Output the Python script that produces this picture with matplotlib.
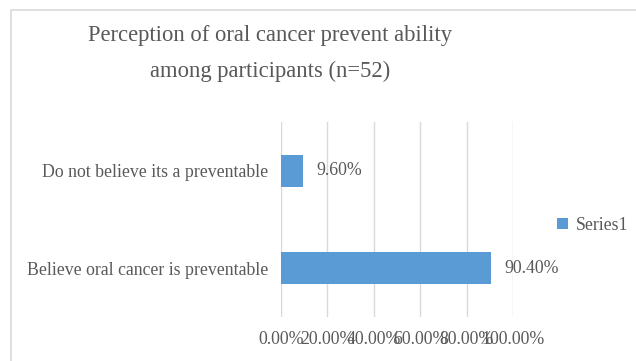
import matplotlib.pyplot as plt
from matplotlib.patches import Rectangle
from matplotlib.ticker import FuncFormatter

categories = ["Believe oral cancer is preventable", "Do not believe its a preventable"]
values = [90.40, 9.60]
xticks = [0, 20, 40, 60, 80, 100]

bar_color = "#5B9BD5"
text_color = "#595959"
grid_color = "#D9D9D9"
fs = 12.8

plt.rcParams["font.family"] = ["Liberation Serif", "DejaVu Serif"]

W, H = 636, 361
fig = plt.figure(figsize=(W / 100, H / 100), dpi=100)

# chart frame (runs off the right and bottom edges)
fig.patches.append(Rectangle((10.5 / W, -0.05), 1.1, 1 - 9.5 / H + 0.05,
                             transform=fig.transFigure, fill=False,
                             edgecolor=grid_color, linewidth=1.2))

ax = fig.add_axes([281 / W, 1 - 317 / H, 232 / W, 195 / H])
ypos = list(range(len(categories)))
ax.barh(ypos, values, height=0.33, color=bar_color, label="Series1", zorder=3)

for y, v in zip(ypos, values):
    ax.annotate(f"{v:.2f}%", (v, y), xytext=(9.5, 0), textcoords="offset points",
                va="center", ha="left", fontsize=fs, color=text_color)

ax.set_xlim(0, 100)
ax.set_ylim(-0.5, 1.5)
ax.set_xticks(xticks)
ax.xaxis.set_major_formatter(FuncFormatter(lambda v, p: f"{v:.2f}%"))
ax.set_yticks(ypos)
ax.set_yticklabels(categories)
ax.tick_params(axis="both", length=0, labelsize=fs, labelcolor=text_color)
ax.tick_params(axis="x", pad=10)
ax.tick_params(axis="y", pad=9)
ax.grid(axis="x", color=grid_color, linewidth=1, zorder=0)
for s in ax.spines.values():
    s.set_visible(False)

fig.text(270 / W, 1 - 41 / H, "Perception of oral cancer prevent ability",
         ha="center", va="baseline", fontsize=16.3, color=text_color)
fig.text(270 / W, 1 - 77 / H, "among participants (n=52)",
         ha="center", va="baseline", fontsize=16.3, color=text_color)

fig.legend(loc="center left", bbox_to_anchor=(545 / W, 1 - 225 / H), frameon=False,
           borderaxespad=0.3, handlelength=0.6, handleheight=0.6, handletextpad=0.45,
           fontsize=fs, labelcolor=text_color)

fig.savefig("out.png", dpi=100, facecolor="white")
